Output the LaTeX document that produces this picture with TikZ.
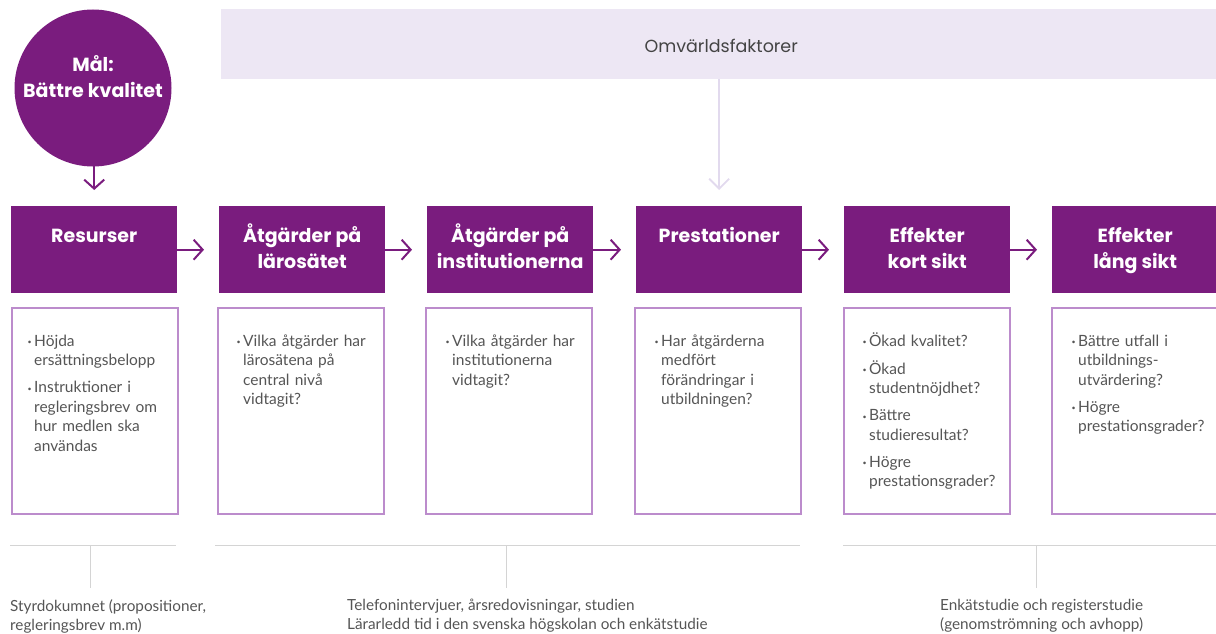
\documentclass[tikz,border=0pt]{standalone}
\usepackage{fontspec}
\setmainfont{Lato}
\newfontfamily\headfamily{Poppins}
\usetikzlibrary{arrows.meta,calc}
\definecolor{vpurple}{RGB}{122,28,126}
\definecolor{vband}{RGB}{237,231,244}
\definecolor{varrow}{RGB}{226,218,238}
\definecolor{vlilac}{RGB}{188,140,204}
\definecolor{vgray}{RGB}{85,85,85}
\definecolor{vline}{RGB}{212,212,212}
\newcommand{\hstrut}{\rule{0pt}{23pt}}
\newcommand{\bulitem}[1]{\par\hangindent=6.5pt\hangafter=1\noindent\strut\makebox[6.5pt][l]{\raisebox{1.5pt}{\fontsize{7}{7}\selectfont\textbullet}}\begingroup\let\\\newline#1\endgroup\par\vspace{7.5pt}}
\tikzset{
    goal/.style = {circle, fill=vpurple, minimum size=157pt, inner sep=0pt},
    band/.style = {fill=vband, anchor=north west, inner sep=0pt,
        minimum width=1000pt, minimum height=70pt, text height=17pt, text depth=0pt,
        text=vgray!80!black, font=\headfamily\fontsize{17.5}{20}\selectfont},
    head/.style = {fill=vpurple, anchor=north west, inner sep=0pt,
        minimum width=166pt, minimum height=87pt},
    headtext/.style = {text=white, anchor=north, align=center, inner sep=0pt,
        font=\headfamily\bfseries\fontsize{19}{26}\selectfont},
    infobox/.style = {draw=vlilac, line width=1.5pt, anchor=north west, inner sep=0pt,
        minimum width=166pt, minimum height=206pt},
    infotext/.style = {text=vgray, anchor=north west, inner sep=0pt, text width=175pt,
        align=left, font=\fontsize{15.5}{19.5}\selectfont},
    srctext/.style = {text=vgray, anchor=north west, inner sep=0pt, align=left,
        font=\fontsize{15.3}{19}\selectfont},
    flow/.style = {draw=vpurple, line width=2pt, -{Straight Barb[length=9pt,width=20pt]}},
    outer/.style = {draw=varrow, line width=1.8pt, -{Straight Barb[length=10pt,width=20pt]}},
    srcline/.style = {draw=vline, line width=1pt}
}
\begin{document}
\begin{tikzpicture}[x=1pt, y=-1pt]
    \useasboundingbox (0,0) rectangle (1216,634);
    % goal and outside factors
    \node[goal] (mal) at (93,88) {};
    \node[headtext] (mal-t) at (93,48) {\hstrut Mål:\\Bättre kvalitet};
    \node[band] (omv) at (221,9) {Omvärldsfaktorer};
    % chain of headers
    \node[head] (res) at (11,206) {};
    \node[head] (lar) at (219,206) {};
    \node[head] (inst) at (427,206) {};
    \node[head] (prest) at (636,206) {};
    \node[head] (kort) at (844,206) {};
    \node[head] (lang) at (1052,206) {};
    \node[headtext] (res-t) at ($(res.north)+(0,13)$) {\hstrut Resurser};
    \node[headtext] (lar-t) at ($(lar.north)+(0,13)$) {\hstrut Åtgärder på\\lärosätet};
    \node[headtext] (inst-t) at ($(inst.north)+(0,13)$) {\hstrut Åtgärder på\\institutionerna};
    \node[headtext] (prest-t) at ($(prest.north)+(0,13)$) {\hstrut Prestationer};
    \node[headtext] (kort-t) at ($(kort.north)+(0,13)$) {\hstrut Effekter\\kort sikt};
    \node[headtext] (lang-t) at ($(lang.north)+(0,13)$) {\hstrut Effekter\\lång sikt};
    % question boxes
    \node[infobox] (res-b) at (11,307) {};
    \node[infobox] (lar-b) at (217,307) {};
    \node[infobox] (inst-b) at (425,307) {};
    \node[infobox] (prest-b) at (634,307) {};
    \node[infobox] (kort-b) at (843,307) {};
    \node[infobox] (lang-b) at (1051,307) {};
    \node[infotext] (res-i) at (27.5,326.5) {\bulitem{Höjda\\ersättningsbelopp}\bulitem{Instruktioner i\\regleringsbrev om\\hur medlen ska\\användas}};
    \node[infotext] (lar-i) at (236.5,326.5) {\bulitem{Vilka åtgärder har\\lärosätena på\\central nivå\\vidtagit?}};
    \node[infotext] (inst-i) at (445.5,326.5) {\bulitem{Vilka åtgärder har\\institutionerna\\vidtagit?}};
    \node[infotext] (prest-i) at (654.5,326.5) {\bulitem{Har åtgärderna\\medfört\\förändringar i\\utbildningen?}};
    \node[infotext] (kort-i) at (862.5,326.5) {\bulitem{Ökad kvalitet?}\bulitem{Ökad\\studentnöjdhet?}\bulitem{Bättre\\studieresultat?}\bulitem{Högre\\prestationsgrader?}};
    \node[infotext] (lang-i) at (1071.5,326.5) {\bulitem{Bättre utfall i\\utbildnings-\\utvärdering?}\bulitem{Högre\\prestationsgrader?}};
    % arrows
    \draw[flow, shorten >=16pt] (mal.south -| res.north) ++(0,-40) -- (res.north);
    \draw[outer, shorten >=16pt] (prest.north |- omv.south) -- (prest.north);
    \draw[flow, shorten >=15pt] (res.east) -- (lar.west);
    \draw[flow, shorten >=15pt] (lar.east) -- (inst.west);
    \draw[flow, shorten >=15pt] (inst.east) -- (prest.west);
    \draw[flow, shorten >=15pt] (prest.east) -- (kort.west);
    \draw[flow, shorten >=15pt] (kort.east) -- (lang.west);
    % sources
    \coordinate (src1w) at (10,545);
    \coordinate (src1e) at (176,545);
    \coordinate (src2w) at (215,545);
    \coordinate (src2e) at (800,545);
    \coordinate (src3w) at (843,545);
    \coordinate (src3e) at (1218,545);
    \coordinate (tick1) at (90,545);
    \coordinate (tick1e) at (90,588);
    \coordinate (tick2) at (506,545);
    \coordinate (tick2e) at (506,588);
    \coordinate (tick3) at (1036,545);
    \coordinate (tick3e) at (1036,588);
    \draw[srcline] (src1w) -- (src1e);
    \draw[srcline] (src2w) -- (src2e);
    \draw[srcline] (src3w) -- (src3e);
    \draw[srcline] (tick1) -- (tick1e);
    \draw[srcline] (tick2) -- (tick2e);
    \draw[srcline] (tick3) -- (tick3e);
    \node[srctext] (src1-t) at (10,599) {Styrdokumnet (propositioner,\\regleringsbrev m.m)};
    \node[srctext] (src2-t) at (347,599) {Telefonintervjuer, årsredovisningar, studien\\Lärarledd tid i den svenska högskolan och enkätstudie};
    \node[srctext] (src3-t) at (940,599) {Enkätstudie och registerstudie\\(genomströmning och avhopp)};
\end{tikzpicture}
\end{document}
